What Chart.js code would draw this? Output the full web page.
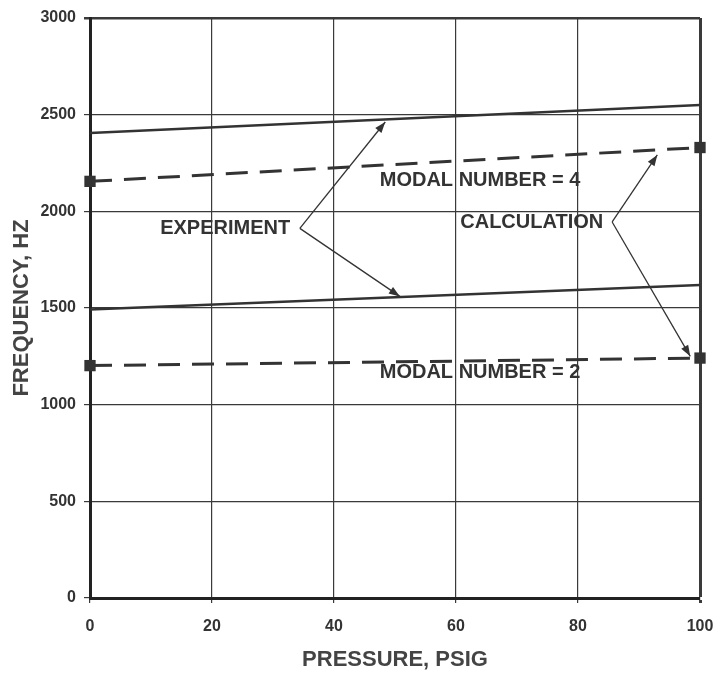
<!DOCTYPE html>
<html>
<head>
<meta charset="utf-8">
<script src="https://cdn.jsdelivr.net/npm/chart.js@4"></script>
<style>
  html, body { margin: 0; padding: 0; background: #fff; }
  #wrap { width: 718px; height: 673px; }
</style>
</head>
<body>
<div id="wrap"><canvas id="freqChart"></canvas></div>
<script>
const pressure = [0, 100];
const expMode4 = [2405, 2550];
const expMode2 = [1492, 1619];
const calcMode4 = [2155, 2330];
const calcMode2 = [1202, 1241];
const xTicks = [0, 20, 40, 60, 80, 100];
const yTicks = [0, 500, 1000, 1500, 2000, 2500, 3000];

const ink = '#333';

function pts(ys) {
  return pressure.map((p, i) => ({ x: p, y: ys[i] }));
}

// labels and arrows, in data units
const notes = [
  { text: 'EXPERIMENT', x: 11.5, y: 1910 },
  { text: 'CALCULATION', x: 60.7, y: 1940 },
  { text: 'MODAL NUMBER = 4', x: 47.5, y: 2160 },
  { text: 'MODAL NUMBER = 2', x: 47.5, y: 1165 }
];
const arrows = [
  { from: [34.4, 1912], to: [48.4, 2462] },
  { from: [34.4, 1912], to: [50.8, 1560] },
  { from: [85.6, 1945], to: [93.0, 2292] },
  { from: [85.6, 1945], to: [98.4, 1250] }
];

const notesPlugin = {
  id: 'notes',
  afterDatasetsDraw(chart) {
    const { ctx, scales: { x, y } } = chart;
    ctx.save();
    ctx.fillStyle = ink;
    ctx.strokeStyle = ink;
    ctx.font = 'bold 20px "Liberation Sans", Arial, sans-serif';
    ctx.textBaseline = 'middle';
    ctx.textAlign = 'left';
    notes.forEach(n => ctx.fillText(n.text, x.getPixelForValue(n.x), y.getPixelForValue(n.y)));
    ctx.lineWidth = 1.3;
    arrows.forEach(a => {
      const x0 = x.getPixelForValue(a.from[0]), y0 = y.getPixelForValue(a.from[1]);
      const x1 = x.getPixelForValue(a.to[0]), y1 = y.getPixelForValue(a.to[1]);
      const ang = Math.atan2(y1 - y0, x1 - x0);
      ctx.beginPath();
      ctx.moveTo(x0, y0);
      ctx.lineTo(x1, y1);
      ctx.stroke();
      const L = 11, W = 4;
      ctx.beginPath();
      ctx.moveTo(x1, y1);
      ctx.lineTo(x1 - L * Math.cos(ang) + W * Math.sin(ang), y1 - L * Math.sin(ang) - W * Math.cos(ang));
      ctx.lineTo(x1 - L * Math.cos(ang) - W * Math.sin(ang), y1 - L * Math.sin(ang) + W * Math.cos(ang));
      ctx.closePath();
      ctx.fill();
    });
    ctx.restore();
  }
};

Chart.defaults.font.family = '"Liberation Sans", Arial, sans-serif';
Chart.defaults.font.weight = 'bold';
Chart.defaults.color = ink;

const solid = ys => ({
  data: pts(ys), borderColor: ink, borderWidth: 2.5, pointRadius: 0, clip: false
});
const dashed = ys => ({
  data: pts(ys), borderColor: ink, borderWidth: 3, borderDash: [22, 12],
  pointStyle: 'rect', pointRadius: 8, pointBackgroundColor: ink, pointBorderWidth: 0, clip: false
});

new Chart(document.getElementById('freqChart'), {
  type: 'line',
  data: {
    datasets: [solid(expMode4), solid(expMode2), dashed(calcMode4), dashed(calcMode2)]
  },
  options: {
    responsive: true,
    maintainAspectRatio: false,
    animation: false,
    layout: { padding: { top: 18, right: 18, bottom: 0, left: 0 } },
    plugins: { legend: { display: false }, tooltip: { enabled: false } },
    scales: {
      x: {
        type: 'linear',
        min: 0, max: 100,
        afterBuildTicks: s => { s.ticks = xTicks.map(v => ({ value: v })); },
        afterFit: s => { s.height = 75; s.paddingRight = 0; s.paddingLeft = 0; },
        ticks: { font: { size: 16 }, padding: 14, color: ink },
        grid: {
          color: '#3a3a3a',
          lineWidth: c => (c.tick && c.tick.value === 100 ? 3 : 1.2),
          tickLength: 5
        },
        border: { color: '#222', width: 3 },
        title: {
          display: true, text: 'PRESSURE, PSIG', color: '#444',
          font: { size: 22 }, padding: { top: 0, bottom: 0 }
        }
      },
      y: {
        type: 'linear',
        min: 0, max: 3000,
        afterBuildTicks: s => { s.ticks = yTicks.map(v => ({ value: v })); },
        afterFit: s => { s.width = 90; s.paddingTop = 0; s.paddingBottom = 0; },
        ticks: { font: { size: 16 }, padding: 8, color: ink, callback: v => String(v) },
        grid: {
          color: '#3a3a3a',
          lineWidth: c => (c.tick && c.tick.value === 3000 ? 2.5 : 1.2),
          tickLength: 6
        },
        border: { color: '#222', width: 3 },
        title: {
          display: true, text: 'FREQUENCY, HZ', color: '#444',
          font: { size: 22 }, padding: { top: 9, bottom: 0 }
        }
      }
    }
  },
  plugins: [notesPlugin]
});
</script>
</body>
</html>
